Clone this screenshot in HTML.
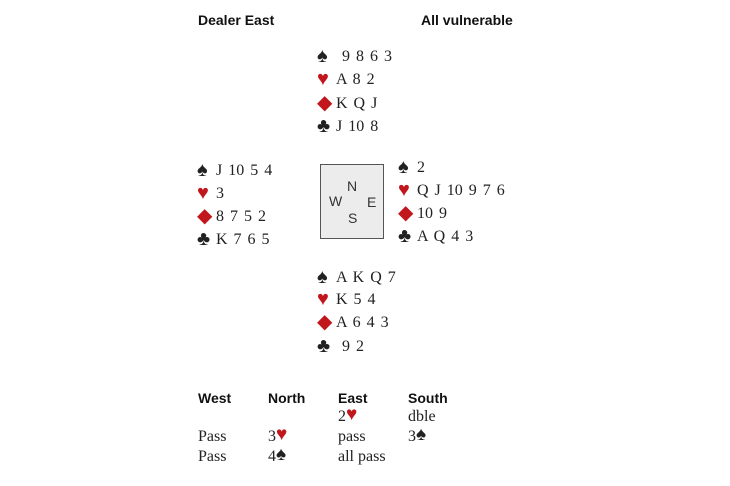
<!DOCTYPE html>
<html><head><meta charset="utf-8"><style>
body{margin:0;width:730px;height:486px;background:#fff;position:relative;overflow:hidden;font-family:"Liberation Serif",serif;font-size:16px;color:#222}
.t{position:absolute;white-space:pre;line-height:20px;height:20px;word-spacing:2px}
.h{font-family:"Liberation Sans",sans-serif;font-weight:bold;font-size:14px;color:#111;word-spacing:0}
.bd{word-spacing:0}
.r{color:#c0161c}
.s{display:inline-block;width:19px;font-size:20px;line-height:18px;vertical-align:top;text-align:left}
.b{font-size:19px;line-height:16px;vertical-align:top}
.box{position:absolute;left:320px;top:164px;width:62px;height:73px;border:1px solid #555;background:#ececec;font-family:"Liberation Sans",sans-serif;font-size:14px;color:#333}
.box span{position:absolute}
</style></head><body>
<div class="t h" style="left:198px;top:10px">Dealer East</div>
<div class="t h" style="left:421px;top:10px">All vulnerable</div>

<div class="t" style="left:317px;top:47px"><span class="s">♠</span> 9 8 6 3</div>
<div class="t" style="left:317px;top:70px"><span class="s r">♥</span>A 8 2</div>
<div class="t" style="left:317px;top:94px"><span class="s r">◆</span>K Q J</div>
<div class="t" style="left:317px;top:117px"><span class="s">♣</span>J 10 8</div>

<div class="t" style="left:197px;top:161px"><span class="s">♠</span>J 10 5 4</div>
<div class="t" style="left:197px;top:184px"><span class="s r">♥</span>3</div>
<div class="t" style="left:197px;top:207px"><span class="s r">◆</span>8 7 5 2</div>
<div class="t" style="left:197px;top:230px"><span class="s">♣</span>K 7 6 5</div>

<div class="box"><span style="left:26px;top:13px">N</span><span style="left:8px;top:28px">W</span><span style="left:46px;top:29px">E</span><span style="left:27px;top:45px">S</span></div>

<div class="t" style="left:398px;top:158px"><span class="s">♠</span>2</div>
<div class="t" style="left:398px;top:181px"><span class="s r">♥</span>Q J 10 9 7 6</div>
<div class="t" style="left:398px;top:204px"><span class="s r">◆</span>10 9</div>
<div class="t" style="left:398px;top:227px"><span class="s">♣</span>A Q 4 3</div>

<div class="t" style="left:317px;top:268px"><span class="s">♠</span>A K Q 7</div>
<div class="t" style="left:317px;top:290px"><span class="s r">♥</span>K 5 4</div>
<div class="t" style="left:317px;top:313px"><span class="s r">◆</span>A 6 4 3</div>
<div class="t" style="left:317px;top:337px"><span class="s">♣</span> 9 2</div>

<div class="t h" style="left:198px;top:388px">West</div>
<div class="t h" style="left:268px;top:388px">North</div>
<div class="t h" style="left:338px;top:388px">East</div>
<div class="t h" style="left:408px;top:388px">South</div>
<div class="t bd" style="left:338px;top:407px">2<span class="b r">♥</span></div>
<div class="t bd" style="left:408px;top:407px">dble</div>
<div class="t bd" style="left:198px;top:427px">Pass</div>
<div class="t bd" style="left:268px;top:427px">3<span class="b r">♥</span></div>
<div class="t bd" style="left:338px;top:427px">pass</div>
<div class="t bd" style="left:408px;top:427px">3<span class="b">♠</span></div>
<div class="t bd" style="left:198px;top:447px">Pass</div>
<div class="t bd" style="left:268px;top:447px">4<span class="b">♠</span></div>
<div class="t bd" style="left:338px;top:447px">all pass</div>
</body></html>
